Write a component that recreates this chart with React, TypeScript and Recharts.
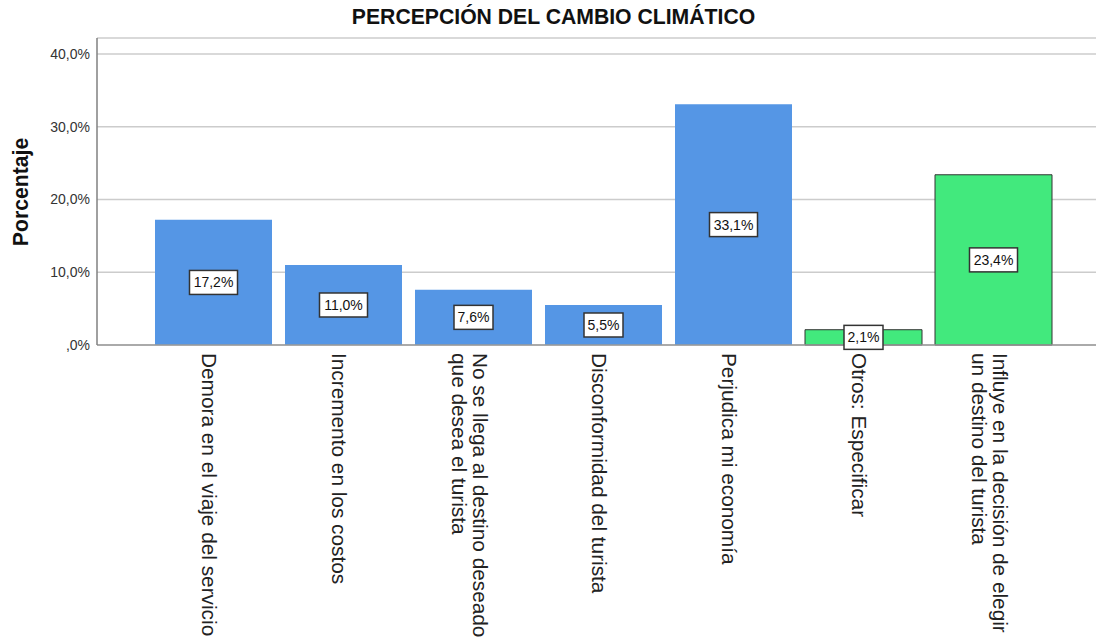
import React from 'react';
import { BarChart, Bar, XAxis, YAxis, CartesianGrid, Cell, LabelList } from 'recharts';

const categories = [
    'Demora en el viaje del servicio',
    'Incremento en los costos',
    'No se llega al destino deseado\nque desea el turista',
    'Disconformidad del turista',
    'Perjudica mi economía',
    'Otros: Especificar',
    'Influye en la decisión de elegir\nun destino del turista',
];

const percentages = [17.2, 11.0, 7.6, 5.5, 33.1, 2.1, 23.4];

const yTicks = [0, 10, 20, 30, 40];

const BLUE = '#5596e5';
const GREEN = '#42e97d';
const barColors = [BLUE, BLUE, BLUE, BLUE, BLUE, GREEN, GREEN];

const FONT = '"Liberation Sans", Arial, sans-serif';

const data = categories.map((name, i) => ({ name, value: percentages[i] }));

const formatPct = (v: number) => (v === 0 ? ',0%' : v.toFixed(1).replace('.', ',') + '%');

const CategoryTick = (props: any) => {
    const { x, y, payload } = props;
    const lines = String(payload.value).split('\n');
    const first = 11 - (lines.length - 1) * 10.5;
    return (
        <g transform={`translate(${x},${y}) rotate(90)`}>
            {lines.map((line, k) => (
                <text key={k} x={0} y={first + k * 21} fontSize={20.8} fill="#222" fontFamily={FONT}>
                    {line}
                </text>
            ))}
        </g>
    );
};

const ValueBox = (props: any) => {
    const { x, y, width, height, value } = props;
    const cx = x + width / 2;
    const cy = y + height / 2;
    const text = formatPct(Number(value));
    const w = text.length * 9 + 3;
    const h = 24;
    return (
        <g>
            <rect x={cx - w / 2} y={cy - h / 2} width={w} height={h} fill="#fff" stroke="#333" strokeWidth={1.5} />
            <text x={cx} y={cy + 5} textAnchor="middle" fontSize={14} fill="#111" fontFamily={FONT}>
                {text}
            </text>
        </g>
    );
};

export default function App() {
    return (
        <div style={{ position: 'absolute', left: 0, top: 0, width: 1097, height: 637, background: '#fff' }}>
            <div
                style={{
                    position: 'absolute',
                    left: 0,
                    top: 5,
                    width: 1107,
                    textAlign: 'center',
                    fontFamily: FONT,
                    fontWeight: 'bold',
                    fontSize: 21.2,
                    color: '#111',
                }}
            >
                PERCEPCIÓN DEL CAMBIO CLIMÁTICO
            </div>
            <BarChart width={1097} height={637} data={data} margin={{ top: 38, right: 1, left: 0, bottom: 0 }}>
                <CartesianGrid vertical={false} stroke="#cccccc" strokeWidth={1.5} />
                <XAxis
                    dataKey="name"
                    interval={0}
                    height={292}
                    padding={{ left: 51, right: 38 }}
                    tickLine={false}
                    tickSize={0}
                    tickMargin={8}
                    tick={<CategoryTick />}
                    axisLine={{ stroke: '#9a9a9a', strokeWidth: 1.5 }}
                />
                <YAxis
                    width={97}
                    domain={[0, 42.2]}
                    ticks={yTicks}
                    tickFormatter={formatPct}
                    tickLine={false}
                    tickSize={0}
                    tickMargin={7}
                    tick={{ fontSize: 14, fill: '#333', fontFamily: FONT }}
                    axisLine={{ stroke: '#808080', strokeWidth: 1.5 }}
                    label={{
                        content: () => (
                            <text
                                transform="translate(28,192) rotate(-90)"
                                textAnchor="middle"
                                fontSize={21.2}
                                fontWeight="bold"
                                fill="#111"
                                fontFamily={FONT}
                            >
                                Porcentaje
                            </text>
                        ),
                    }}
                />
                <Bar dataKey="value" barSize={117} isAnimationActive={false}>
                    {data.map((entry, index) => (
                        <Cell
                            key={`cell-${index}`}
                            fill={barColors[index]}
                            stroke={barColors[index] === GREEN ? '#333' : 'none'}
                            strokeWidth={1}
                        />
                    ))}
                    <LabelList dataKey="value" content={<ValueBox />} />
                </Bar>
            </BarChart>
        </div>
    );
}
